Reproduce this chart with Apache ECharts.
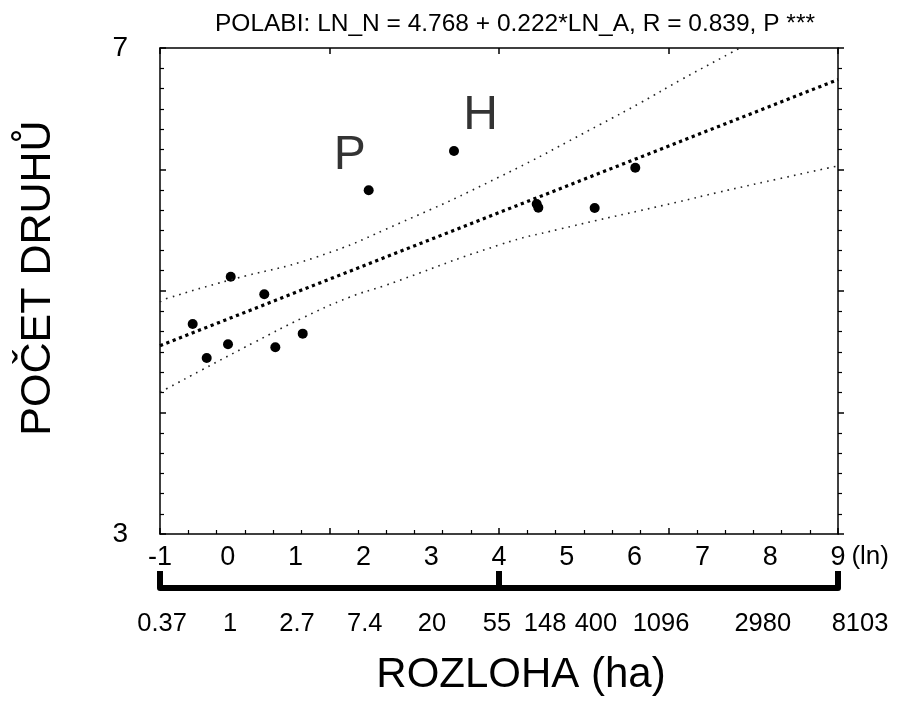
<!DOCTYPE html>
<html>
<head>
<meta charset="utf-8">
<script src="https://cdn.jsdelivr.net/npm/echarts@6/dist/echarts.min.js"></script>
<style>html,body{margin:0;padding:0;background:#fff}#c{width:906px;height:704px}</style>
</head>
<body>
<div id="c"></div>
<script>
// ---- data ----
const titleText = 'POLABI: LN_N = 4.768 + 0.222*LN_A, R = 0.839, P ***';
const lnArea = [0.043, 0.538, -0.518, 0.003, -0.311, 0.701, 1.105, 2.078, 3.336, 4.556, 4.580, 5.411, 6.010];
const lnSpecies = [5.118, 4.973, 4.728, 4.561, 4.449, 4.537, 4.649, 5.829, 6.152, 5.716, 5.686, 5.683, 6.015];
const fitX = [-1, 9];
const fitY = [4.55, 6.74];
const upperX = [-1, -0.89, 0.03, 1.31, 2.54, 4.01, 5.49, 6.09, 6.69, 7.42, 7.55];
const upperY = [4.91, 4.94, 5.09, 5.28, 5.56, 5.94, 6.37, 6.55, 6.74, 6.96, 7.0];
const lowerX = [-1, -0.89, -0.385, 0.40, 1.09, 1.80, 2.29, 4.01, 4.90, 6.62, 7.22, 8.10, 9];
const lowerY = [4.17, 4.20, 4.35, 4.58, 4.775, 4.95, 5.04, 5.38, 5.51, 5.73, 5.81, 5.92, 6.03];
const lnTicks = [-1, 0, 1, 2, 3, 4, 5, 6, 7, 8, 9];
const yTicks = [3, 7];
const haLabels = ['0.37', '1', '2.7', '7.4', '20', '55', '148', '400', '1096', '2980', '8103'];
const haLabelPos = [-0.97, 0.032, 1.02, 2.02, 3.01, 3.97, 4.68, 5.43, 6.39, 7.89, 9];
const bracketTicks = [-1, 4, 9];
const notes = [['P', 1.80, 6.11], ['H', 3.73, 6.44]];

const zip = (a, b) => a.map((v, i) => [v, b[i]]);
const FF = '"Liberation Sans", Arial, Helvetica, sans-serif';
const haLabelFor = v => {
  let best = 0;
  haLabelPos.forEach((p, i) => { if (Math.abs(p - v) < Math.abs(haLabelPos[best] - v)) best = i; });
  return best;
};

const chart = echarts.init(document.getElementById('c'), null, {renderer: 'canvas'});
chart.setOption({
  backgroundColor: '#ffffff',
  animation: false,
  textStyle: {fontFamily: FF, color: '#000'},
  title: {
    text: titleText, left: 210, top: 7,
    textStyle: {fontFamily: FF, fontSize: 24.5, fontWeight: 'normal', color: '#000'}
  },
  grid: {left: 160, right: 68, top: 48, bottom: 170, containLabel: false},
  xAxis: [
    {
      type: 'value', position: 'bottom', min: -1, max: 9, interval: 2.5,
      axisLine: {show: true, onZero: false, lineStyle: {color: '#000', width: 1.5}},
      axisTick: {show: true, inside: true, length: 6, lineStyle: {color: '#000', width: 1.5}},
      minorTick: {show: true, splitNumber: 6, length: 4, lineStyle: {color: '#000', width: 1.2}},
      splitLine: {show: false},
      axisLabel: {customValues: lnTicks, margin: 10, fontSize: 27, color: '#000', fontFamily: FF},
      name: '(ln)', nameLocation: 'end', nameGap: 8,
      nameTextStyle: {fontSize: 26, color: '#000', fontFamily: FF, verticalAlign: 'top', padding: [10, 0, 0, 0]}
    },
    {
      type: 'value', position: 'top', min: -1, max: 9, interval: 2.5,
      axisLine: {show: true, onZero: false, lineStyle: {color: '#000', width: 1.5}},
      axisTick: {show: true, inside: true, length: 6, lineStyle: {color: '#000', width: 1.5}},
      splitLine: {show: false}, axisLabel: {show: false}
    },
    {
      type: 'value', position: 'bottom', offset: 54, min: -1, max: 9,
      axisLine: {show: true, onZero: false, lineStyle: {color: '#000', width: 6}},
      axisTick: {show: true, inside: true, length: 17, customValues: bracketTicks, lineStyle: {color: '#000', width: 6}},
      splitLine: {show: false},
      axisLabel: {
        show: true, customValues: haLabelPos, margin: 23, fontSize: 25.5, color: '#000', fontFamily: FF,
        formatter: v => {
          const i = haLabelFor(v);
          return i === haLabels.length - 1 ? '{e|' + haLabels[i] + '}' : haLabels[i];
        },
        rich: {e: {fontSize: 25.5, fontFamily: FF, color: '#000', padding: [0, 0, 0, 44]}}
      },
      name: 'ROZLOHA (ha)', nameLocation: 'middle', nameGap: 66,
      nameTextStyle: {fontSize: 42, color: '#000', fontFamily: FF, padding: [0, 0, 0, 44]}
    }
  ],
  yAxis: [
    {
      type: 'value', position: 'left', min: 3, max: 7, interval: 1,
      axisLine: {show: true, onZero: false, lineStyle: {color: '#000', width: 1.5}},
      axisTick: {show: true, inside: true, length: 6, lineStyle: {color: '#000', width: 1.5}},
      minorTick: {show: true, splitNumber: 6, length: 4, lineStyle: {color: '#000', width: 1.2}},
      splitLine: {show: false},
      axisLabel: {customValues: yTicks, margin: 32, fontSize: 28, color: '#000', fontFamily: FF},
      name: 'POČET DRUHŮ', nameLocation: 'middle', nameRotate: 90, nameGap: 100,
      nameTextStyle: {fontSize: 43, color: '#000', fontFamily: FF, padding: [0, 0, 0, 26]}
    },
    {
      type: 'value', position: 'right', min: 3, max: 7, interval: 1,
      axisLine: {show: true, onZero: false, lineStyle: {color: '#000', width: 1.5}},
      axisTick: {show: true, inside: false, length: 6, lineStyle: {color: '#000', width: 1.5}},
      minorTick: {show: true, splitNumber: 6, length: 4, lineStyle: {color: '#000', width: 1.2}},
      splitLine: {show: false}, axisLabel: {show: false}
    }
  ],
  series: [
    {
      type: 'line', xAxisIndex: 0, yAxisIndex: 0, data: zip(upperX, upperY), smooth: true,
      symbol: 'none', clip: true, lineStyle: {color: '#222', width: 1.6, type: [1.6, 5.2]}
    },
    {
      type: 'line', xAxisIndex: 0, yAxisIndex: 0, data: zip(lowerX, lowerY), smooth: true,
      symbol: 'none', clip: true, lineStyle: {color: '#222', width: 1.6, type: [1.6, 5.2]}
    },
    {
      type: 'line', xAxisIndex: 0, yAxisIndex: 0, data: zip(fitX, fitY),
      symbol: 'none', clip: true, lineStyle: {color: '#000', width: 3.2, type: [3.2, 3.6]}
    },
    {
      type: 'scatter', xAxisIndex: 0, yAxisIndex: 0, data: zip(lnArea, lnSpecies),
      symbol: 'circle', symbolSize: 10, itemStyle: {color: '#000', opacity: 1}
    },
    {
      type: 'scatter', xAxisIndex: 0, yAxisIndex: 0,
      data: notes.map(n => ({value: [n[1], n[2]], name: n[0]})),
      symbolSize: 0, silent: true,
      label: {show: true, position: 'inside', formatter: p => p.name, fontSize: 48, color: '#000', fontFamily: FF}
    }
  ]
});
</script>
</body>
</html>
